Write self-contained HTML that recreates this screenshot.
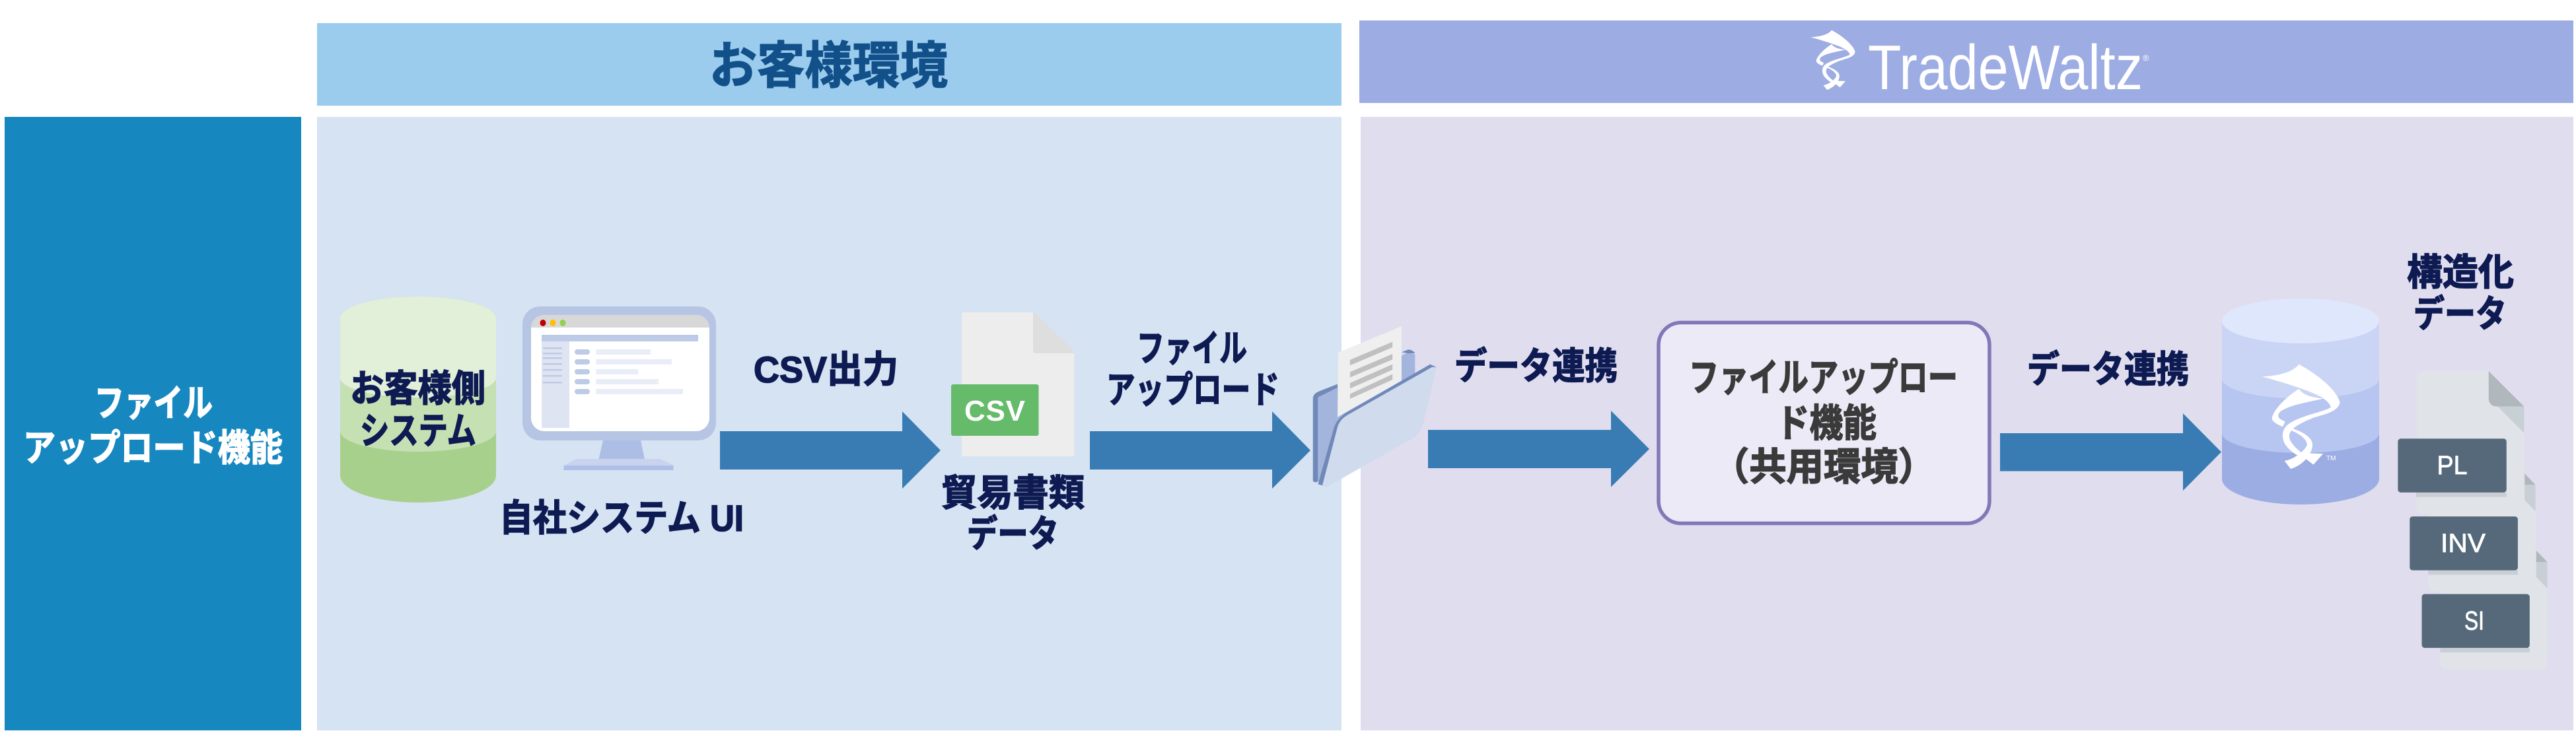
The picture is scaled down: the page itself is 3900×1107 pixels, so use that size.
<!DOCTYPE html>
<html lang="ja">
<head>
<meta charset="utf-8">
<title>ファイルアップロード機能</title>
<style>
html,body{margin:0;padding:0;background:#fff;width:3900px;height:1107px;overflow:hidden}
svg{display:block}
text{font-family:"Liberation Sans","Noto Sans CJK JP",sans-serif;font-weight:700}
.n{fill:#0e1b52;font-size:56px;stroke:#0e1b52;stroke-width:1.6px}
.w{fill:#fff;font-size:56px;stroke:#fff;stroke-width:1.6px}
.g{fill:#3a3a3a;font-size:58px;stroke:#3a3a3a;stroke-width:1.6px}
.l{fill:#fff;font-size:40px;font-weight:400;text-anchor:middle;stroke:#fff;stroke-width:.8px}
</style>
</head>
<body>
<svg width="3900" height="1107" viewBox="0 0 3900 1107" xmlns="http://www.w3.org/2000/svg">
<defs>
<g id="logo">
<path d="M260,367 C330,362 385,350 412,318 C480,352 565,415 581,465 C583,480 570,490 545,500 C548,480 530,460 490,440 C440,418 350,390 260,367 Z"/>
<path d="M300,530 C310,490 370,440 412,415 C430,440 465,450 515,453 C440,470 370,480 335,505 C325,515 322,525 335,535 L355,545 L345,565 C320,555 300,545 300,530 Z"/>
<path d="M545,480 C550,490 530,495 500,505 C450,520 390,535 362,560 C340,580 340,610 355,635 C370,655 390,670 405,678 L425,670 C400,650 370,625 372,600 C375,570 420,550 470,530 C520,515 575,505 581,470 Z"/>
<path d="M385,572 C430,585 468,610 468,635 C468,680 420,720 378,732 L352,700 C390,695 430,665 445,640 C450,615 410,590 375,578 Z"/>
<path d="M440,692 L455,670 L512,672 L472,715 Z"/>
</g>
</defs>

<rect x="7" y="177" width="449" height="929" fill="#1787c0"/>
<rect x="480" y="35" width="1551" height="125" fill="#9bcbed"/>
<rect x="2058" y="31" width="1838" height="125" fill="#9dade3"/>
<rect x="480" y="177" width="1551" height="929" fill="#d6e3f3"/>
<rect x="2060" y="177" width="1836" height="929" fill="#e0ddee"/>

<text x="1074" y="126" fill="#12508a" stroke="#12508a" stroke-width="1.5" font-size="76" textLength="361" lengthAdjust="spacingAndGlyphs">お客様環境</text>
<g fill="#fff" transform="translate(2687,-23.6) scale(.209,.218)"><use href="#logo"/></g>
<text x="2828" y="135" fill="#fff" font-size="96" style="font-weight:400" textLength="416" lengthAdjust="spacingAndGlyphs">TradeWaltz</text>
<text x="3244" y="92" fill="#fff" font-size="13" style="font-weight:400">®</text>

<text class="w" x="143" y="630" textLength="179" lengthAdjust="spacingAndGlyphs">ファイル</text>
<text class="w" x="35" y="698" textLength="393" lengthAdjust="spacingAndGlyphs">アップロード機能</text>

<!-- green cylinder -->
<path d="M515,482 A118,33 0 0 1 751,482 V720 A118,41 0 0 1 515,720 Z" fill="#a8d08d"/>
<path d="M515,482 A118,33 0 0 1 751,482 V653 A118,31 0 0 1 515,653 Z" fill="#c5e0b3"/>
<path d="M515,482 A118,33 0 0 1 751,482 V572 A118,30 0 0 1 515,572 Z" fill="#e2efd9"/>
<text class="n" x="530" y="608" textLength="205" lengthAdjust="spacingAndGlyphs">お客様側</text>
<text class="n" x="545" y="672" textLength="176" lengthAdjust="spacingAndGlyphs">システム</text>

<!-- monitor -->
<rect x="791" y="464" width="293" height="203" rx="27" fill="#b7c5e4"/>
<rect x="804" y="477" width="270" height="176" rx="20" fill="#fff"/>
<path d="M804,496 V497 A20,20 0 0 1 824,477 H1054 A20,20 0 0 1 1074,497 V496 Z" fill="#d8d8d8"/>
<ellipse cx="822" cy="489" rx="4.5" ry="5" fill="#c00000"/>
<ellipse cx="837" cy="489" rx="4.5" ry="5" fill="#ffc000"/>
<ellipse cx="852" cy="489" rx="4.5" ry="5" fill="#92d050"/>
<rect x="820" y="507" width="237" height="10" fill="#bdcbe6"/>
<rect x="820" y="517" width="42" height="131" fill="#dfe4f3"/>
<g fill="#bdcbe6">
<rect x="822" y="526" width="29" height="2.5"/><rect x="822" y="534" width="29" height="2.5"/><rect x="822" y="541" width="29" height="2.5"/><rect x="822" y="550" width="29" height="2.5"/><rect x="822" y="559" width="29" height="2.5"/><rect x="822" y="568" width="29" height="2.5"/><rect x="822" y="578" width="29" height="2.5"/>
<rect x="870" y="529" width="23" height="8" rx="4"/><rect x="870" y="544" width="23" height="8" rx="4"/><rect x="870" y="559" width="23" height="8" rx="4"/><rect x="870" y="574" width="23" height="8" rx="4"/><rect x="870" y="589" width="23" height="8" rx="4"/>
</g>
<g fill="#e9edf7">
<rect x="902.500" y="529" width="82.500" height="8"/><rect x="902.500" y="544" width="114.500" height="8"/><rect x="902.500" y="559" width="63.500" height="8"/><rect x="902.500" y="574" width="94.500" height="8"/><rect x="902.500" y="589" width="131.500" height="8"/>
</g>
<polygon points="913,667 970,667 976,695 906.500,695" fill="#adbee6"/>
<polygon points="872,695 1000,695 1019.600,705 853.500,705" fill="#c9d3ee"/>
<rect x="853.500" y="705" width="166" height="7" fill="#aebfe8"/>
<text class="n" x="756" y="804" textLength="370" lengthAdjust="spacingAndGlyphs">自社システム UI</text>

<!-- arrows -->
<g fill="#397cb4">
<polygon points="1090,653 1366,653 1366,623 1424,682 1366,740 1366,711 1090,711"/>
<polygon points="1650,653 1926,653 1926,623 1984,682 1926,740 1926,711 1650,711"/>
<polygon points="2162,651 2439,651 2439,622 2497,680 2439,737.500 2439,709 2162,709"/>
<polygon points="3028,656 3305,656 3305,626 3363,684.500 3305,743 3305,713.500 3028,713.500"/>
</g>
<text class="n" x="1141" y="579" textLength="219" lengthAdjust="spacingAndGlyphs">CSV出力</text>
<text class="n" x="1721" y="547" textLength="167" lengthAdjust="spacingAndGlyphs">ファイル</text>
<text class="n" x="1675" y="610" textLength="262" lengthAdjust="spacingAndGlyphs">アップロード</text>

<!-- CSV doc -->
<path d="M1456,476 a3,3 0 0 1 3,-3 H1567 L1626.500,532 V688 a3,3 0 0 1 -3,3 H1459 a3,3 0 0 1 -3,-3 Z" fill="#ededed"/>
<path d="M1564,473 H1567 L1626.500,532 V535 H1568 a4,4 0 0 1 -4,-4 Z" fill="#dedede"/>
<rect x="1440" y="582" width="132.500" height="78" rx="3" fill="#66bb6a"/>
<text x="1460" y="637" fill="#fff" font-size="44" textLength="92" lengthAdjust="spacing">CSV</text>
<text class="n" x="1425" y="766" textLength="217" lengthAdjust="spacingAndGlyphs">貿易書類</text>
<text class="n" x="1464" y="828" textLength="139" lengthAdjust="spacingAndGlyphs">データ</text>

<!-- folder -->
<g transform="translate(1400,450) scale(.5102,.3333)">
<path d="M1152,460 Q1152,440 1170,428 L1225,395 L1225,412 L1167,455 V835 Q1160,848 1152,835 Z" fill="#7189b9"/>
<path d="M1167,455 L1435,250 L1455,260 V520 L1180,850 L1167,838 Z" fill="#a3b5dc"/>
<path d="M1415,250 L1435,238 Q1450,240 1455,255 L1435,255 Z" fill="#7189b9"/>
<polygon points="1227,252 1415,132 1415,380 1225,545" fill="#efefef"/>
<g fill="#c0c0c0">
<polygon points="1262,285 1388,203 1388,228 1262,310"/>
<polygon points="1262,340 1388,258 1388,283 1262,365"/>
<polygon points="1262,390 1388,305 1388,330 1262,415"/>
<polygon points="1262,440 1388,350 1388,375 1262,462"/>
</g>
<path d="M1167,850 L1215,590 Q1225,550 1250,525 L1500,305 L1518,318 L1190,860 Z" fill="#7189b9"/>
<path d="M1180,855 L1225,590 Q1232,555 1255,535 L1505,318 Q1518,315 1518,325 L1480,570 Q1470,620 1450,640 L1190,865 Z" fill="#d0dbed"/>
</g>

<text class="n" x="2202" y="574" textLength="247" lengthAdjust="spacingAndGlyphs">データ連携</text>

<!-- function box -->
<rect x="2511" y="488.500" width="501" height="304" rx="34" fill="#eceaf6" stroke="#8278b8" stroke-width="5.500"/>
<text class="g" x="2557" y="592" textLength="407" lengthAdjust="spacingAndGlyphs">ファイルアップロー</text>
<text class="g" x="2689" y="661" textLength="152" lengthAdjust="spacingAndGlyphs">ド機能</text>
<text class="g" x="2592" y="727" textLength="338" lengthAdjust="spacingAndGlyphs">（共用環境）</text>

<text class="n" x="3069" y="579" textLength="245" lengthAdjust="spacingAndGlyphs">データ連携</text>

<!-- blue cylinder -->
<path d="M3364,486 H3602 V725 A119,39 0 0 1 3364,725 Z" fill="#9cade3"/>
<path d="M3364,486 H3602 V656 A119,30 0 0 1 3364,656 Z" fill="#b7c5f1"/>
<path d="M3364,486 H3602 V573.500 A119,30 0 0 1 3364,573.500 Z" fill="#cad4f4"/>
<ellipse cx="3483" cy="486" rx="119" ry="34" fill="#dfe7fd"/>
<g fill="#fff" transform="translate(3330,430) scale(.3654,.3827)"><use href="#logo"/></g>
<text x="3522" y="697" fill="#fff" font-size="10" style="font-weight:400">TM</text>

<text class="n" x="3644" y="432" textLength="162" lengthAdjust="spacingAndGlyphs">構造化</text>
<text class="n" x="3654" y="495" textLength="141" lengthAdjust="spacingAndGlyphs">データ</text>

<!-- document stack -->
<g transform="translate(3330,430) scale(.3654,.3827)">
<path d="M997,985 Q997,955 1027,955 H1295 L1441,1100 V1497 Q1441,1527 1411,1527 H1027 Q997,1527 997,1497 Z" fill="#e0e4e8"/>
<polygon points="1395,1055 1441,1100 1395,1100" fill="#b0b7bd"/>
<polygon points="1395,1100 1441,1100 1441,1205 1395,1160" fill="#c8d0d6"/>
<rect x="997" y="1440" width="371" height="18" fill="#c9cfd5"/>
<rect x="921" y="1227" width="447" height="213" rx="12" fill="#56697a"/>

<path d="M948,680 Q948,650 978,650 H1247 L1392,795 V1185 Q1392,1215 1362,1215 H978 Q948,1215 948,1185 Z" fill="#e0e4e8"/>
<polygon points="1347,750 1392,795 1347,795" fill="#b0b7bd"/>
<polygon points="1347,795 1392,795 1392,900 1347,855" fill="#c8d0d6"/>
<rect x="948" y="1133" width="371" height="18" fill="#c9cfd5"/>
<rect x="871" y="920" width="448" height="213" rx="12" fill="#56697a"/>

<path d="M900,375 Q900,345 930,345 H1198 L1345,485 V880 Q1345,910 1315,910 H930 Q900,910 900,880 Z" fill="#e0e4e8"/>
<path d="M1198,345 L1345,485 H1235 Q1198,485 1198,450 Z" fill="#b0b7bd"/>
<polygon points="1235,485 1345,485 1345,590" fill="#c8d0d6"/>
<rect x="897" y="825" width="375" height="18" fill="#c9cfd5"/>
<rect x="822" y="612" width="450" height="213" rx="12" fill="#56697a"/>
</g>
<text class="l" x="3712.500" y="718" textLength="46" lengthAdjust="spacingAndGlyphs">PL</text>
<text class="l" x="3729" y="836" textLength="68" lengthAdjust="spacingAndGlyphs">INV</text>
<text class="l" x="3746" y="953.500" textLength="30" lengthAdjust="spacingAndGlyphs">SI</text>
</svg>
</body>
</html>
